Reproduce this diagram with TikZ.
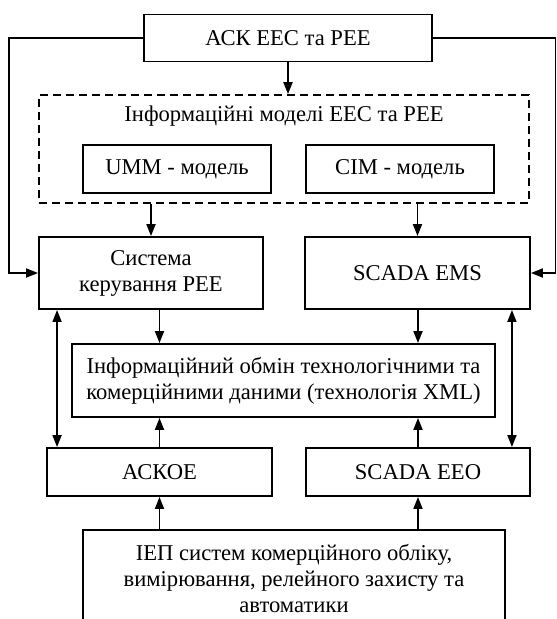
\documentclass[tikz,border=0pt]{standalone}
\usepackage{fontspec}
\setmainfont{Liberation Serif}
\usetikzlibrary{arrows.meta, positioning}

\begin{document}
\begin{tikzpicture}[x=1pt, y=-1pt,
  blockbox/.style={draw=black, line width=1.9pt, align=center, inner sep=0pt,
              font=\fontsize{22.6}{26}\selectfont},
  dashbox/.style={draw=black, line width=1.7pt, dash pattern=on 8pt off 5pt,
              inner sep=0pt, minimum width=490pt, minimum height=108pt},
  arr/.style={-{Triangle[length=12pt, width=9pt]}, line width=1.9pt},
  dblarr/.style={{Triangle[length=12pt, width=9pt]}-{Triangle[length=12pt, width=9pt]},
              line width=1.9pt}
]
  \clip (0,0) rectangle (557,619);
  \useasboundingbox (0,0) rectangle (557,619);

  % ── Top ──
  \node[blockbox, minimum width=288pt, minimum height=47pt] (ask) at (288,38) {АСК ЕЕС та РЕЕ};

  % ── Information models (dashed) ──
  \node[dashbox] (models) at (284,149) {};
  \node[font=\fontsize{22.6}{26}\selectfont] (modtitle) at (284,116) {Інформаційні моделі ЕЕС та РЕЕ};
  \node[blockbox, minimum width=188pt, minimum height=48pt] (umm) at (177,169) {UMM - модель};
  \node[blockbox, minimum width=188pt, minimum height=48pt] (cim) at (400,169) {CIM - модель};

  % ── Control systems ──
  \node[blockbox, minimum width=224pt, minimum height=72pt] (kerr) at (151,273) {Система\\керування РЕЕ};
  \node[blockbox, minimum width=225pt, minimum height=72pt] (ems) at (417.5,273) {SCADA EMS};

  % ── Data exchange ──
  \node[blockbox, minimum width=423pt, minimum height=73pt] (xml) at (283.5,380.5)
        {Інформаційний обмін технологічними та\\комерційними даними (технологія XML)};

  % ── Metering ──
  \node[blockbox, minimum width=225pt, minimum height=48pt] (askoe) at (159.5,472) {АСКОЕ};
  \node[blockbox, minimum width=224pt, minimum height=48pt] (eeo) at (418,472) {SCADA EEO};

  % ── Field devices (cut by the page edge) ──
  \node[blockbox, minimum width=422pt, minimum height=98pt] (iep) at (294,579)
        {ІЕП систем комерційного обліку,\\вимірювання, релейного захисту та\\автоматики};

  % ── Arrows ──
  \coordinate (lturn) at (9,38);
  \coordinate (rturn) at (555.5,38);
  \draw[arr] (ask.west) -- (lturn) |- (kerr.west);
  \draw[arr] (ask.east) -- (rturn) |- (ems.east);
  \draw[arr] (ask.south) -- (ask.south |- models.north);
  \draw[arr] (kerr.north |- models.south) -- (kerr.north);
  \draw[arr] (ems.north |- models.south) -- (ems.north);
  \foreach \n in {askoe,eeo} {
    \draw[arr] (\n.north |- ems.south) -- (\n.north |- xml.north);
    \draw[arr] (\n.north) -- (\n.north |- xml.south);
    \draw[arr] (\n.south |- iep.north) -- (\n.south);
  }
  \draw[dblarr] ([xshift=19pt]kerr.south west) -- ([xshift=19pt]kerr.south west |- askoe.north);
  \draw[dblarr] ([xshift=-19pt]ems.south east) -- ([xshift=-19pt]ems.south east |- eeo.north);

\end{tikzpicture}
\end{document}
